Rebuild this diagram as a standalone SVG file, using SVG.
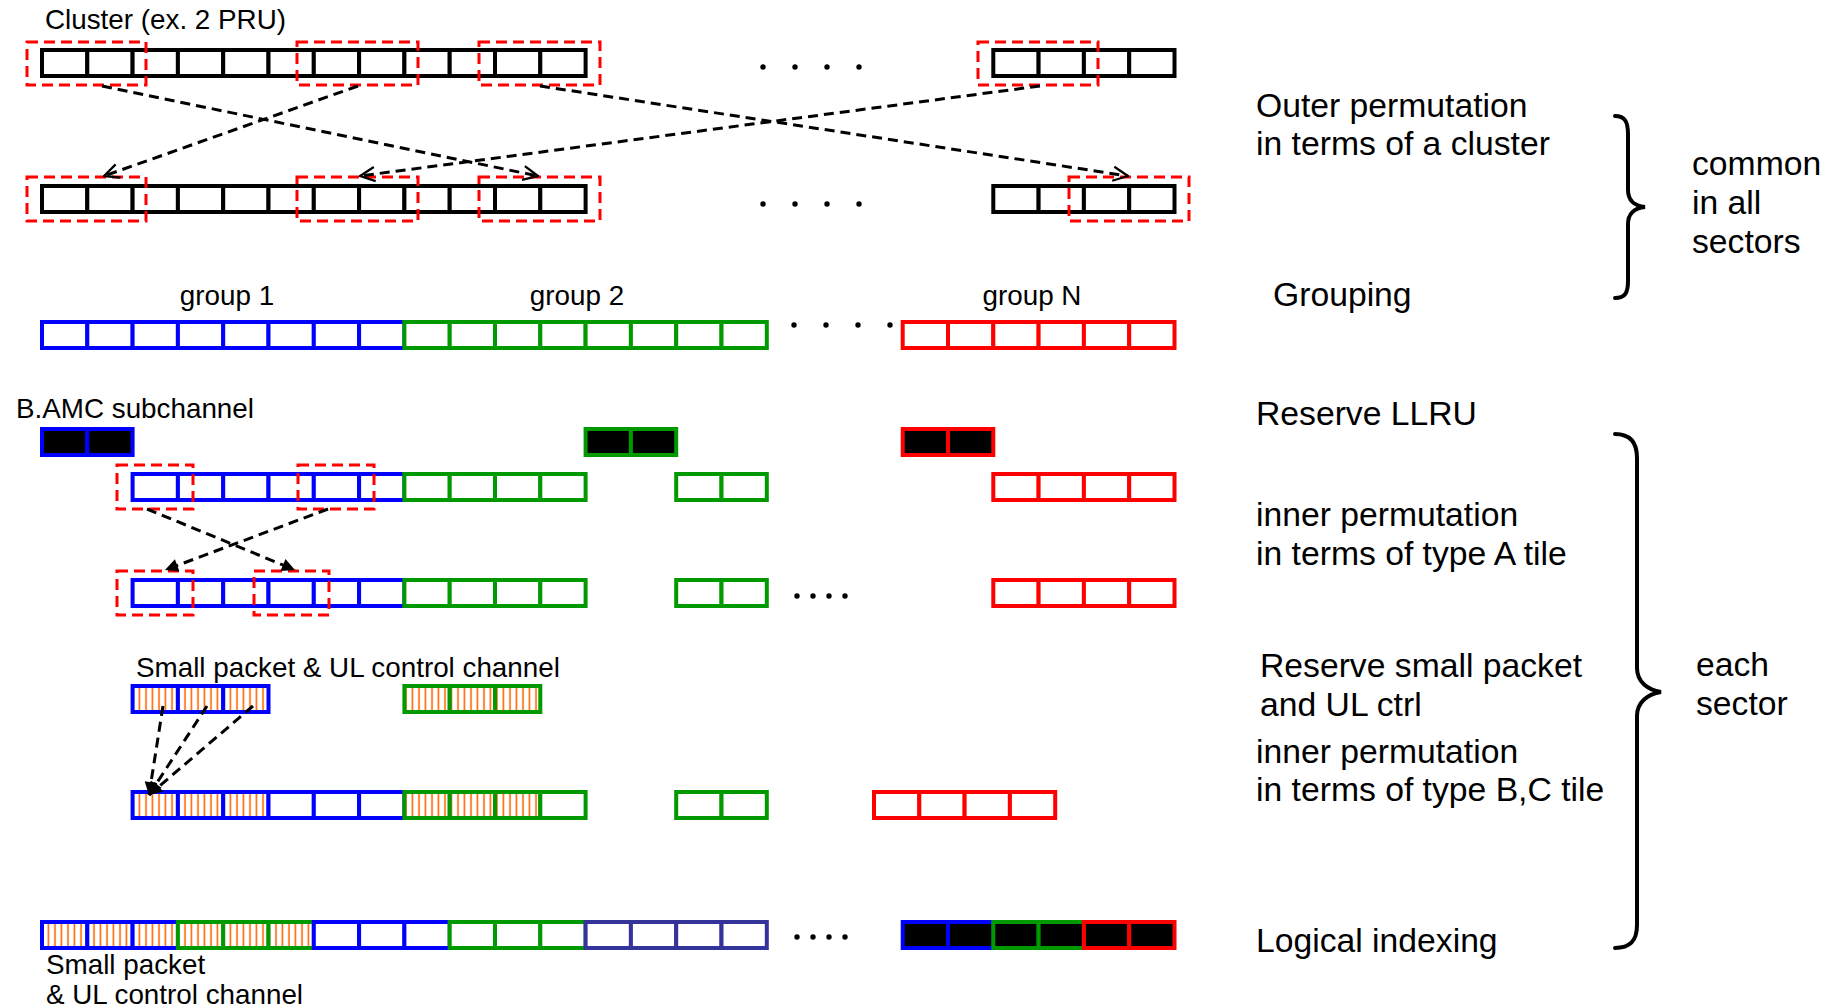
<svg xmlns="http://www.w3.org/2000/svg" width="1834" height="1008" viewBox="0 0 1834 1008">
<style>
text{font-family:"Liberation Sans",Arial,sans-serif;fill:#000}
.lbl{font-size:27.8px}
.rt{font-size:33.7px}
rect.c{width:45.3px;height:26px;stroke-width:4}
.k{fill:#fff;stroke:#000}
.b{fill:#fff;stroke:#00f}
.g{fill:#fff;stroke:#090}
.r{fill:#fff;stroke:#f00}
.s{fill:#fff;stroke:#339}
.bh{fill:url(#hatch);stroke:#00f}
.gh{fill:url(#hatch);stroke:#090}
.bk{fill:#000;stroke:#00f}
.gk{fill:#000;stroke:#090}
.rk{fill:#000;stroke:#f00}
.dbox{fill:none;stroke:#f00;stroke-width:3;stroke-dasharray:11 6}
.arr{fill:none;stroke:#000;stroke-width:3;stroke-dasharray:10 6}
.brace{fill:none;stroke:#000;stroke-width:4;stroke-linecap:round}
.dot{fill:#000}
</style>
<defs>
<pattern id="hatch" width="6.5" height="10" patternUnits="userSpaceOnUse">
<rect width="6.5" height="10" fill="#fff"/>
<line x1="3" y1="0" x2="3" y2="10" stroke="#f60" stroke-width="1.6"/>
</pattern>
<marker id="open" viewBox="0 0 12 12" refX="11.5" refY="6" markerWidth="17" markerHeight="17" markerUnits="userSpaceOnUse" orient="auto">
<path d="M1,1 L11.5,6 L1,11" fill="none" stroke="#000" stroke-width="1.6"/>
</marker>
<marker id="fill" viewBox="0 0 10 10" refX="10" refY="5" markerWidth="15" markerHeight="13" markerUnits="userSpaceOnUse" orient="auto">
<path d="M0,0 L10,5 L0,10 z" fill="#000"/>
</marker>
</defs>
<rect width="1834" height="1008" fill="#fff"/>

<!-- Row 1: clusters before outer permutation -->
<g id="row1">
<text class="lbl" x="45" y="29">Cluster (ex. 2 PRU)</text>
<rect class="c k" x="42" y="50"/><rect class="c k" x="87.3" y="50"/><rect class="c k" x="132.6" y="50"/><rect class="c k" x="177.9" y="50"/><rect class="c k" x="223.2" y="50"/><rect class="c k" x="268.5" y="50"/><rect class="c k" x="313.8" y="50"/><rect class="c k" x="359.1" y="50"/><rect class="c k" x="404.4" y="50"/><rect class="c k" x="449.7" y="50"/><rect class="c k" x="495" y="50"/><rect class="c k" x="540.3" y="50"/>
<rect class="c k" x="993.3" y="50"/><rect class="c k" x="1038.6" y="50"/><rect class="c k" x="1083.9" y="50"/><rect class="c k" x="1129.2" y="50"/>
<rect class="dbox" x="27" y="42" width="119" height="43"/>
<rect class="dbox" x="297" y="42" width="121" height="43"/>
<rect class="dbox" x="479" y="42" width="121" height="43"/>
<rect class="dbox" x="978" y="42" width="120" height="43"/>
<circle class="dot" cx="763" cy="67" r="2.7"/><circle class="dot" cx="795" cy="67" r="2.7"/><circle class="dot" cx="827" cy="67" r="2.7"/><circle class="dot" cx="859" cy="67" r="2.7"/>
</g>

<!-- Row 2: after outer permutation -->
<g id="row2">
<rect class="c k" x="42" y="186"/><rect class="c k" x="87.3" y="186"/><rect class="c k" x="132.6" y="186"/><rect class="c k" x="177.9" y="186"/><rect class="c k" x="223.2" y="186"/><rect class="c k" x="268.5" y="186"/><rect class="c k" x="313.8" y="186"/><rect class="c k" x="359.1" y="186"/><rect class="c k" x="404.4" y="186"/><rect class="c k" x="449.7" y="186"/><rect class="c k" x="495" y="186"/><rect class="c k" x="540.3" y="186"/>
<rect class="c k" x="993.3" y="186"/><rect class="c k" x="1038.6" y="186"/><rect class="c k" x="1083.9" y="186"/><rect class="c k" x="1129.2" y="186"/>
<rect class="dbox" x="27" y="177" width="119" height="44"/>
<rect class="dbox" x="297" y="177" width="121" height="44"/>
<rect class="dbox" x="479" y="177" width="121" height="44"/>
<rect class="dbox" x="1069" y="177" width="120" height="44"/>
<circle class="dot" cx="763" cy="204" r="2.7"/><circle class="dot" cx="795" cy="204" r="2.7"/><circle class="dot" cx="827" cy="204" r="2.7"/><circle class="dot" cx="859" cy="204" r="2.7"/>
</g>

<!-- Row 3: grouping -->
<g id="row3">
<text class="lbl" x="227" y="305" text-anchor="middle">group 1</text>
<text class="lbl" x="577" y="305" text-anchor="middle">group 2</text>
<text class="lbl" x="1032" y="305" text-anchor="middle">group N</text>
<rect class="c b" x="42" y="322"/><rect class="c b" x="87.3" y="322"/><rect class="c b" x="132.6" y="322"/><rect class="c b" x="177.9" y="322"/><rect class="c b" x="223.2" y="322"/><rect class="c b" x="268.5" y="322"/><rect class="c b" x="313.8" y="322"/><rect class="c b" x="359.1" y="322"/>
<rect class="c g" x="404.4" y="322"/><rect class="c g" x="449.7" y="322"/><rect class="c g" x="495" y="322"/><rect class="c g" x="540.3" y="322"/><rect class="c g" x="585.6" y="322"/><rect class="c g" x="630.9" y="322"/><rect class="c g" x="676.2" y="322"/><rect class="c g" x="721.5" y="322"/>
<rect class="c r" x="902.7" y="322"/><rect class="c r" x="948" y="322"/><rect class="c r" x="993.3" y="322"/><rect class="c r" x="1038.6" y="322"/><rect class="c r" x="1083.9" y="322"/><rect class="c r" x="1129.2" y="322"/>
<circle class="dot" cx="794" cy="325" r="2.7"/><circle class="dot" cx="826" cy="325" r="2.7"/><circle class="dot" cx="858" cy="325" r="2.7"/><circle class="dot" cx="890" cy="325" r="2.7"/>
</g>

<!-- Row 4: B.AMC reserved -->
<g id="row4">
<text class="lbl" x="16" y="418">B.AMC subchannel</text>
<rect class="c bk" x="42" y="429"/><rect class="c bk" x="87.3" y="429"/>
<rect class="c gk" x="585.6" y="429"/><rect class="c gk" x="630.9" y="429"/>
<rect class="c rk" x="902.7" y="429"/><rect class="c rk" x="948" y="429"/>
</g>

<!-- Row 5: before inner permutation -->
<g id="row5">
<rect class="c b" x="132.6" y="474"/><rect class="c b" x="177.9" y="474"/><rect class="c b" x="223.2" y="474"/><rect class="c b" x="268.5" y="474"/><rect class="c b" x="313.8" y="474"/><rect class="c b" x="359.1" y="474"/>
<rect class="c g" x="404.4" y="474"/><rect class="c g" x="449.7" y="474"/><rect class="c g" x="495" y="474"/><rect class="c g" x="540.3" y="474"/>
<rect class="c g" x="676.2" y="474"/><rect class="c g" x="721.5" y="474"/>
<rect class="c r" x="993.3" y="474"/><rect class="c r" x="1038.6" y="474"/><rect class="c r" x="1083.9" y="474"/><rect class="c r" x="1129.2" y="474"/>
<rect class="dbox" x="117" y="465" width="76" height="44"/>
<rect class="dbox" x="298" y="465" width="76" height="44"/>
</g>

<!-- Row 6: after inner permutation (type A) -->
<g id="row6">
<rect class="c b" x="132.6" y="580"/><rect class="c b" x="177.9" y="580"/><rect class="c b" x="223.2" y="580"/><rect class="c b" x="268.5" y="580"/><rect class="c b" x="313.8" y="580"/><rect class="c b" x="359.1" y="580"/>
<rect class="c g" x="404.4" y="580"/><rect class="c g" x="449.7" y="580"/><rect class="c g" x="495" y="580"/><rect class="c g" x="540.3" y="580"/>
<rect class="c g" x="676.2" y="580"/><rect class="c g" x="721.5" y="580"/>
<rect class="c r" x="993.3" y="580"/><rect class="c r" x="1038.6" y="580"/><rect class="c r" x="1083.9" y="580"/><rect class="c r" x="1129.2" y="580"/>
<rect class="dbox" x="117" y="571" width="76" height="44"/>
<rect class="dbox" x="254" y="571" width="75" height="44"/>
<circle class="dot" cx="797" cy="596" r="2.7"/><circle class="dot" cx="813" cy="596" r="2.7"/><circle class="dot" cx="829" cy="596" r="2.7"/><circle class="dot" cx="845" cy="596" r="2.7"/>
</g>

<!-- Row 7: small packet & UL control reserved -->
<g id="row7">
<text class="lbl" x="136" y="677">Small packet &amp; UL control channel</text>
<rect class="c bh" x="132.6" y="686"/><rect class="c bh" x="177.9" y="686"/><rect class="c bh" x="223.2" y="686"/>
<rect class="c gh" x="404.4" y="686"/><rect class="c gh" x="449.7" y="686"/><rect class="c gh" x="495" y="686"/>
</g>

<!-- Row 8: after inner permutation (type B,C) -->
<g id="row8">
<rect class="c bh" x="132.6" y="792"/><rect class="c bh" x="177.9" y="792"/><rect class="c bh" x="223.2" y="792"/><rect class="c b" x="268.5" y="792"/><rect class="c b" x="313.8" y="792"/><rect class="c b" x="359.1" y="792"/>
<rect class="c gh" x="404.4" y="792"/><rect class="c gh" x="449.7" y="792"/><rect class="c gh" x="495" y="792"/><rect class="c g" x="540.3" y="792"/>
<rect class="c g" x="676.2" y="792"/><rect class="c g" x="721.5" y="792"/>
<rect class="c r" x="874" y="792"/><rect class="c r" x="919.3" y="792"/><rect class="c r" x="964.6" y="792"/><rect class="c r" x="1009.9" y="792"/>
</g>

<!-- Row 9: logical indexing -->
<g id="row9">
<rect class="c bh" x="42" y="922"/><rect class="c bh" x="87.3" y="922"/><rect class="c bh" x="132.6" y="922"/>
<rect class="c gh" x="177.9" y="922"/><rect class="c gh" x="223.2" y="922"/><rect class="c gh" x="268.5" y="922"/>
<rect class="c b" x="313.8" y="922"/><rect class="c b" x="359.1" y="922"/><rect class="c b" x="404.4" y="922"/>
<rect class="c g" x="449.7" y="922"/><rect class="c g" x="495" y="922"/><rect class="c g" x="540.3" y="922"/>
<rect class="c s" x="585.6" y="922"/><rect class="c s" x="630.9" y="922"/><rect class="c s" x="676.2" y="922"/><rect class="c s" x="721.5" y="922"/>
<rect class="c bk" x="902.7" y="922"/><rect class="c bk" x="948" y="922"/>
<rect class="c gk" x="993.3" y="922"/><rect class="c gk" x="1038.6" y="922"/>
<rect class="c rk" x="1083.9" y="922"/><rect class="c rk" x="1129.2" y="922"/>
<circle class="dot" cx="797" cy="937" r="2.7"/><circle class="dot" cx="813" cy="937" r="2.7"/><circle class="dot" cx="829" cy="937" r="2.7"/><circle class="dot" cx="845" cy="937" r="2.7"/>
<text class="lbl" x="46" y="974">Small packet</text>
<text class="lbl" x="46" y="1004">&amp; UL control channel</text>
</g>

<!-- Connectors -->
<g id="connectors">
<path class="arr" d="M102,86 L538,176" marker-end="url(#open)"/>
<path class="arr" d="M358,86 L104,176" marker-end="url(#open)"/>
<path class="arr" d="M540,86 L1128,176" marker-end="url(#open)"/>
<path class="arr" d="M1040,86 L360,176" marker-end="url(#open)"/>
<path class="arr" d="M147,509 L295,570" marker-end="url(#fill)"/>
<path class="arr" d="M328,509 L165,570" marker-end="url(#fill)"/>
<path class="arr" d="M163,706 L149,795" marker-end="url(#fill)"/>
<path class="arr" d="M207,706 L149,795" marker-end="url(#fill)"/>
<path class="arr" d="M253,706 L149,795" marker-end="url(#fill)"/>
</g>

<!-- Right-side step labels -->
<g id="labels">
<text class="rt" x="1256" y="117">Outer permutation</text>
<text class="rt" x="1256" y="155">in terms of a cluster</text>
<text class="rt" x="1273" y="306">Grouping</text>
<text class="rt" x="1256" y="425">Reserve LLRU</text>
<text class="rt" x="1256" y="526">inner permutation</text>
<text class="rt" x="1256" y="565">in terms of type A tile</text>
<text class="rt" x="1260" y="677">Reserve small packet</text>
<text class="rt" x="1260" y="716">and UL ctrl</text>
<text class="rt" x="1256" y="763">inner permutation</text>
<text class="rt" x="1256" y="801">in terms of type B,C tile</text>
<text class="rt" x="1256" y="952">Logical indexing</text>
</g>

<g id="brace-common">
<path class="brace" d="M1615,116 C1625,116 1628,122 1628,134 L1628,190 C1628,200 1634,206 1645,207 C1634,208 1628,214 1628,224 L1628,281 C1628,293 1625,298 1615,298"/>
<text class="rt" x="1692" y="175">common</text>
<text class="rt" x="1692" y="214">in all</text>
<text class="rt" x="1692" y="253">sectors</text>
</g>

<g id="brace-each">
<path class="brace" d="M1615,434 C1630,434 1637,442 1637,458 L1637,668 C1637,682 1648,690 1661,692 C1648,694 1637,702 1637,716 L1637,925 C1637,941 1630,948 1615,948"/>
<text class="rt" x="1696" y="676">each</text>
<text class="rt" x="1696" y="715">sector</text>
</g>
</svg>
